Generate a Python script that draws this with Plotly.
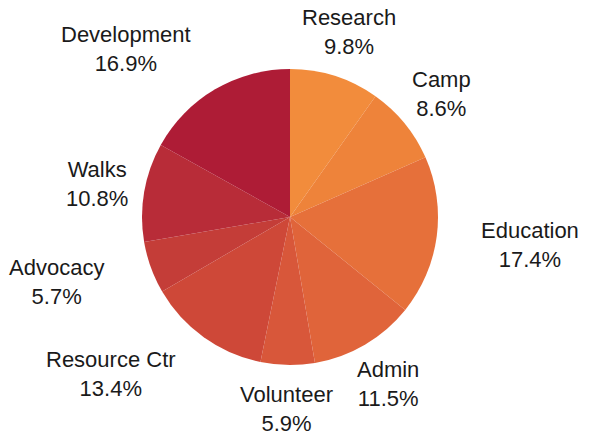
import math
import plotly.graph_objects as go

labels = ["Research", "Camp", "Education", "Admin", "Volunteer",
          "Resource Ctr", "Advocacy", "Walks", "Development"]
values = [9.8, 8.6, 17.4, 11.5, 5.9, 13.4, 5.7, 10.8, 16.9]
colors = ["#F28C3C", "#EE833A", "#E6703A", "#E0643A", "#D8573A",
          "#CE4838", "#C43D38", "#B82C38", "#AE1C36"]

# label layout (styling): radial distance in px from pie centre and angular nudge in degrees
label_dist = [194, 195, 242, 194, 192, 238, 242, 196, 235]
label_nudge = [0, 0, -1, 0, 0, 13, 4.5, 0, -14]

W, H = 590, 436
cx, cy, R = 290, 217, 148

fig = go.Figure(go.Pie(
    labels=labels,
    values=values,
    sort=False,
    direction="clockwise",
    rotation=0,
    marker=dict(colors=colors, line=dict(width=0)),
    textinfo="none",
    showlegend=False,
    hoverinfo="label+percent",
    domain=dict(x=[(cx - R) / W, (cx + R) / W],
                y=[1 - (cy + R) / H, 1 - (cy - R) / H]),
))

total = sum(values)
cum = 0.0
for lab, v, d, nd in zip(labels, values, label_dist, label_nudge):
    mid = (cum + v / 2) / total * 360 + nd
    cum += v
    a = math.radians(mid)
    px = cx + d * math.sin(a)
    py = cy - d * math.cos(a)
    fig.add_annotation(
        x=px / W, y=1 - py / H, xref="paper", yref="paper",
        text=f"{lab}<br>{v / total * 100:.1f}%",
        showarrow=False, xanchor="center", yanchor="middle",
        font=dict(family="Liberation Sans, Arial, sans-serif", size=22, color="#1a1a1a"),
    )

fig.update_layout(
    width=W, height=H,
    margin=dict(l=0, r=0, t=0, b=0),
    paper_bgcolor="white",
)
fig.write_html("out.html",
               config={"displayModeBar": False},
               post_script="document.body.style.margin='0';document.body.style.overflow='hidden';")
